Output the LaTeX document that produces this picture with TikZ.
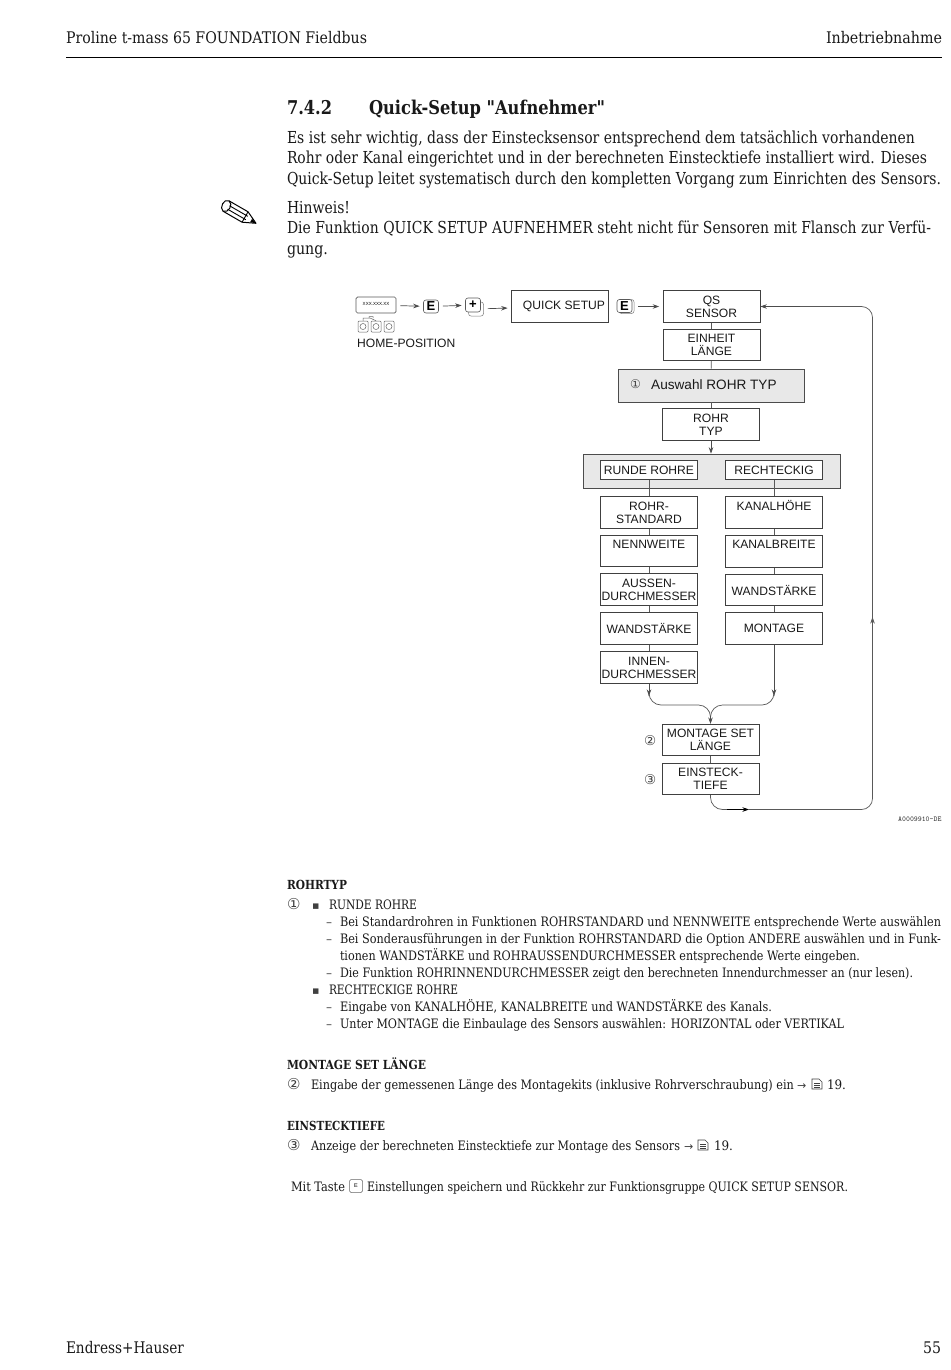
\documentclass[tikz,border=0pt]{standalone}
\usepackage{fontspec}
\setmainfont{DejaVu Serif}
\newfontfamily\hfont{DejaVu Serif}
\newfontfamily\dsans{Liberation Sans}
\newfontfamily\dsym{DejaVu Sans}
\usetikzlibrary{arrows.meta}
\newcommand\tl[6]{\node[anchor=base west,inner sep=0pt,outer sep=0pt,text=black!90,font=\fontsize{#5}{#5}\selectfont] (#1) at (#2,#3) {\resizebox{#4pt}{\height}{\strut #6}};}
\newcommand\tb[6]{\node[anchor=base west,inner sep=0pt,outer sep=0pt,text=black!90,font=\bfseries\fontsize{#5}{#5}\selectfont] (#1) at (#2,#3) {\resizebox{#4pt}{\height}{\strut #6}};}
\newcommand\sy[5]{\node[anchor=base west,inner sep=0pt,outer sep=0pt,text=black!75,font=\dsym\fontsize{#4}{#4}\selectfont] (#1) at (#2,#3) {#5};}
\begin{document}
\begin{tikzpicture}[x=1pt,y=-1pt,
 >={Stealth[length=6.5pt,width=4.5pt]},
 fbox/.style={draw=black!75,line width=.7pt,fill=white,inner sep=0pt,minimum width=97pt,minimum height=31.5pt,align=center,text=black!90,font=\dsans\fontsize{12.1}{12.9}\selectfont},
 band/.style={draw=black!70,line width=.7pt,fill=black!9,inner sep=0pt},
 smallbox/.style={fbox,minimum height=19pt},
 keybox/.style={draw=black!65,line width=.6pt,rounded corners=2.5pt,fill=white,inner sep=0pt,minimum width=15pt,minimum height=13pt,font=\dsans\bfseries\fontsize{13}{13}\selectfont},
 keyback/.style={draw=black!50,line width=.5pt,rounded corners=2.5pt,fill=white,inner sep=0pt,minimum width=15pt,minimum height=14pt},
 conn/.style={draw=black!65,line width=.7pt},
 flow/.style={draw=black!70,line width=.7pt,->},
 gap/.style={shorten <=4pt,shorten >=3.5pt},
 curve/.style={conn,rounded corners=12pt},
 label/.style={inner sep=0pt,anchor=base west,font=\dsans\fontsize{12.1}{12.1}\selectfont,text=black!90},
 mini/.style={draw=black!60,line width=.5pt,rounded corners=1pt,minimum width=10pt,minimum height=11pt,inner sep=0pt}]
\useasboundingbox (0,0) rectangle (950,1370);
\fill[white] (0,0) rectangle (950,1370);
% header
\tl{h1}{66}{44}{301}{16}{Proline t-mass 65 FOUNDATION Fieldbus}
\tl{h2}{826}{44}{116}{16}{Inbetriebnahme}
\coordinate (ra) at (66,57); \coordinate (rb) at (942,57);
\draw[black,line width=.8pt] (ra) -- (rb);
\tb{s1}{287}{114}{45}{19}{\hfont 7.4.2}
\tb{s2}{369}{114}{236}{19}{\hfont Quick-Setup "Aufnehmer"}
\tl{p1}{287}{144}{628}{16.5}{Es ist sehr wichtig, dass der Einstecksensor entsprechend dem tatsächlich vorhandenen}
\tl{p2}{287}{164}{640}{16.5}{Rohr oder Kanal eingerichtet und in der berechneten Einstecktiefe installiert wird. Dieses}
\tl{p3}{287}{184}{654}{16.5}{Quick-Setup leitet systematisch durch den kompletten Vorgang zum Einrichten des Sensors.}
\tl{p4}{287}{213}{63}{16.5}{Hinweis!}
\tl{p5}{287}{233}{644}{16.5}{Die Funktion QUICK SETUP AUFNEHMER steht nicht für Sensoren mit Flansch zur Verfü-}
\tl{p6}{287}{254}{41}{16.5}{gung.}
% pencil
\draw[black,line width=1pt,fill=white,line join=round] (229,200.8) .. controls (224,198) and (219,208) .. (223,211.2) -- (242.05,222.2) -- (256,223.3) -- (248.05,211.8) -- cycle;
\draw[black,line width=1pt] (229,200.8) .. controls (234,204) and (228,214) .. (223,211.2);
\draw[black,line width=.9pt] (229.6,205.8) -- (247.8,216.3) (227.6,209.2) -- (245.8,219.7) (248.05,211.8) -- (242.05,222.2);
\fill[black] (252.1,218.8) -- (256,223.3) -- (250.1,222.2) -- cycle;
% top-left home
\node[draw=black!65,line width=.7pt,rounded corners=1.5pt,minimum width=40pt,minimum height=16pt,inner sep=0pt,font=\dsans\fontsize{4.5}{4.5}\selectfont,anchor=center] (disp) at (376,305) {\raisebox{3pt}{XXX.XXX.XX}};
\node[mini] (m1) at (363,326.5) {}; \node[mini] (m2) at (376,326.5) {}; \node[mini] (m3) at (389,326.5) {};
\foreach \n in {m1,m2,m3}{\draw[black!60,line width=.5pt] (\n.center) circle (3pt);}
\draw[black!60,line width=.5pt] (m1.north) |- (370,318) -- (m2.north) (369,318) -- (369,316.5) -- (373,316.5) -- (373,318);
\node[label] (home) at (357,347) {HOME-POSITION};
\node[keybox] (ke1) at (431,306.5) {E};
\node[keyback] (kpb) at (476,309) {};
\node[keybox,minimum height=14pt] (kp) at (473,305) {\raisebox{.5pt}{+}};
\node[fbox] (qs) at (560,306.5) {\hspace*{8pt}QUICK SETUP};
\node[keyback] (ke2b) at (626.5,306.5) {};
\node[keybox] (ke2) at (624.5,306) {E};
\node[fbox] (qss) at (711.5,306.5) {QS\\SENSOR};
\node[fbox] (eh) at (711.5,345) {EINHEIT\\LÄNGE};
\node[band,minimum width=186pt,minimum height=33pt] (aw) at (711,385.5) {};
\sy{c1}{630}{388}{12}{①}
\node[label,font=\dsans\fontsize{13.6}{13.6}\selectfont] (awt) at (651,389) {Auswahl ROHR TYP};
\node[fbox] (rt) at (711,424.5) {ROHR\\TYP};
\node[band,minimum width=257pt,minimum height=34pt] (bd) at (711.5,471) {};
\node[smallbox] (ru) at (649,470) {RUNDE ROHRE};
\node[smallbox] (re) at (774,470) {RECHTECKIG};
\node[fbox] (l1) at (649,512.5) {ROHR-\\STANDARD};
\node[fbox] (l2) at (649,551) {NENNWEITE\\[1pt]\phantom{X}};
\node[fbox] (l3) at (649,589.5) {AUSSEN-\\DURCHMESSER};
\node[fbox] (l4) at (649,628.5) {WANDSTÄRKE};
\node[fbox] (l5) at (649,667.5) {INNEN-\\DURCHMESSER};
\node[fbox] (r1) at (774,512.5) {KANALHÖHE\\[1pt]\phantom{X}};
\node[fbox] (r2) at (774,551.5) {KANALBREITE\\[1pt]\phantom{X}};
\node[fbox] (r3) at (774,590) {WANDSTÄRKE};
\node[fbox] (r4) at (774,628.5) {MONTAGE};
\node[fbox] (ms) at (710.5,740) {MONTAGE SET\\LÄNGE};
\node[fbox] (et) at (710.5,779) {EINSTECK-\\TIEFE};
\sy{c2}{644}{745}{13.5}{②}
\sy{c3}{644}{784}{13.5}{③}
\node[anchor=base west,inner sep=0pt,font=\ttfamily\fontsize{7.4}{7.4}\selectfont,text=black!80] (ref) at (898,821) {A0009910-DE};
% connectors
\draw[flow,gap] (disp) -- (ke1);
\draw[flow,gap] (ke1) -- (kp);
\draw[flow,gap] (kpb) -- (qs);
\draw[flow,gap] (ke2b) -- (qss);
\draw[conn] (qss) -- (eh);
\draw[conn] (eh) -- (aw);
\draw[conn] (aw) -- (rt);
\draw[flow] (rt) -- (rt.south |- bd.north);
\foreach \a/\b in {ru/l1,l1/l2,l2/l3,l3/l4,l4/l5,re/r1,r1/r2,r2/r3,r3/r4}{\draw[conn] (\a) -- (\b);}
\draw[conn] (ms) -- (et);
\coordinate (la) at (649,696);
\coordinate (ra2) at (774,696);
\coordinate (mg) at (710.5,716);
\draw[flow] (l5) -- (la);
\draw[flow] (r4) -- (ra2);
\draw[curve] (la) |- (mg |- 0,705) -- (mg);
\draw[curve] (ra2) |- (mg |- 0,705) -- (mg);
\draw[flow] (mg) -- (ms);
\coordinate (bc) at (727,809.5);
\coordinate (ba) at (749,809.5);
\coordinate (bb) at (872.5,809.5);
\coordinate (up) at (872.5,617);
\coordinate (tp) at (872.5,306.5);
\coordinate (ts) at (800,306.5);
\draw[conn,rounded corners=12pt] (et) |- (bc);
\draw[conn,rounded corners=11pt] (ba) -- (bb) -- (up);
\draw[conn,->] (bb |- 0,790) -- (up);
\draw[conn,rounded corners=11pt] (up) -- (tp) -- (ts);
\draw[flow] (ts) -- (qss.east);
\draw[flow,black] (bc) -- (ba);
% lower text
\tb{t1}{287}{889}{60}{12.5}{ROHRTYP}
\sy{t2}{287}{909}{15}{①}
\sy{b1}{312}{909}{11}{▪}
\tl{t3}{329}{909}{88}{13}{RUNDE ROHRE}
\sy{d1}{326}{926}{12}{–}
\tl{t4}{340}{926}{601}{13}{Bei Standardrohren in Funktionen ROHRSTANDARD und NENNWEITE entsprechende Werte auswählen}
\sy{d2}{326}{943}{12}{–}
\tl{t5}{340}{943}{601}{13}{Bei Sonderausführungen in der Funktion ROHRSTANDARD die Option ANDERE auswählen und in Funk-}
\tl{t6}{340}{960}{520}{13}{tionen WANDSTÄRKE und ROHRAUSSENDURCHMESSER entsprechende Werte eingeben.}
\sy{d3}{326}{977}{12}{–}
\tl{t7}{340}{977}{573}{13}{Die Funktion ROHRINNENDURCHMESSER zeigt den berechneten Innendurchmesser an (nur lesen).}
\sy{b2}{312}{994}{11}{▪}
\tl{t8}{329}{994}{129}{13}{RECHTECKIGE ROHRE}
\sy{d4}{326}{1011}{12}{–}
\tl{t9}{340}{1011}{432}{13}{Eingabe von KANALHÖHE, KANALBREITE und WANDSTÄRKE des Kanals.}
\sy{d5}{326}{1028}{12}{–}
\tl{t10}{340}{1028}{504}{13}{Unter MONTAGE die Einbaulage des Sensors auswählen: HORIZONTAL oder VERTIKAL}
\tb{t11}{287}{1069}{139}{12.5}{MONTAGE SET LÄNGE}
\sy{t12}{287}{1089}{15}{②}
\tl{t13}{311}{1089}{483}{13}{Eingabe der gemessenen Länge des Montagekits (inklusive Rohrverschraubung) ein}
\sy{a1}{797}{1089}{11}{→}
\tl{t14}{827}{1089}{19}{13}{19.}
\tb{t15}{287}{1130}{98}{12.5}{EINSTECKTIEFE}
\sy{t16}{287}{1150}{15}{③}
\tl{t17}{311}{1150}{369}{13}{Anzeige der berechneten Einstecktiefe zur Montage des Sensors}
\sy{a2}{684}{1150}{11}{→}
\tl{t18}{714}{1150}{19}{13}{19.}
\foreach \x/\y in {812/1079,698/1140}{
 \draw[black!75,line width=.6pt,fill=white] (\x,\y) -- (\x+7,\y) -- (\x+10,\y+3) -- (\x+10,\y+10) -- (\x,\y+10) -- cycle;
 \draw[black!75,line width=.6pt] (\x+2,\y+4) -- (\x+8,\y+4) (\x+2,\y+6) -- (\x+8,\y+6) (\x+2,\y+8) -- (\x+8,\y+8);
}
\tl{t19}{291}{1191}{54}{13}{Mit Taste}
\node[draw=black!60,line width=.5pt,rounded corners=1.5pt,minimum width=13pt,minimum height=13pt,inner sep=0pt,font=\dsans\fontsize{5.5}{5.5}\selectfont] (ktxt) at (356,1186) {E};
\tl{t20}{367}{1191}{481}{13}{Einstellungen speichern und Rückkehr zur Funktionsgruppe QUICK SETUP SENSOR.}
\tl{f1}{66}{1353}{118}{16}{Endress+Hauser}
\tl{f2}{923}{1353}{18}{16}{55}
\end{tikzpicture}
\end{document}
